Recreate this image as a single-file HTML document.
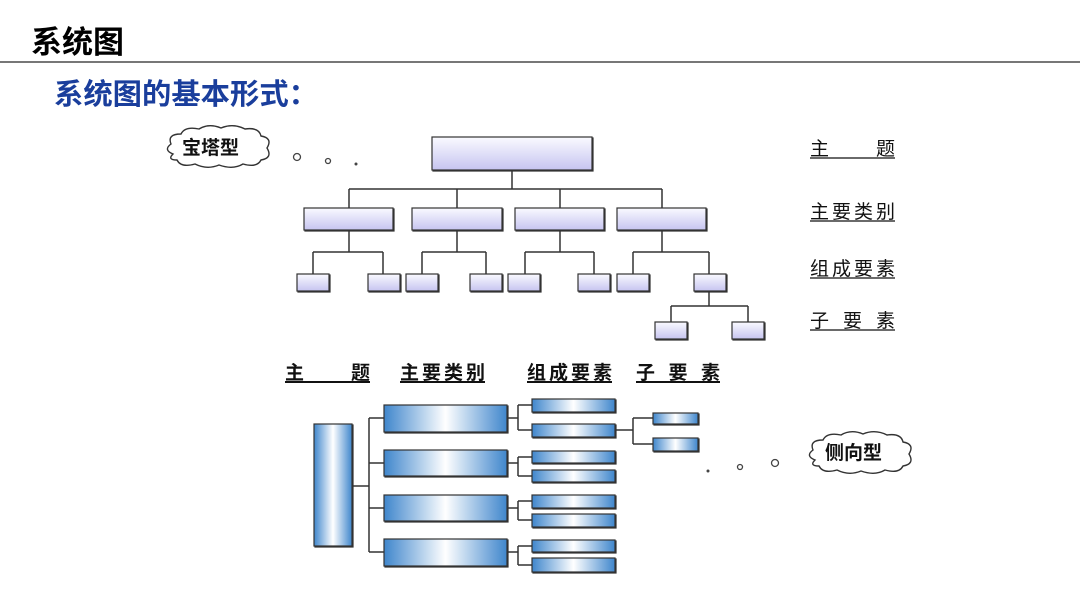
<!DOCTYPE html>
<html><head><meta charset="utf-8"><style>
body{margin:0;width:1080px;height:608px;background:#fff;overflow:hidden;font-family:"Liberation Sans","Noto Sans CJK SC",sans-serif}
</style></head><body>
<svg width="1080" height="608" viewBox="0 0 1080 608" xmlns="http://www.w3.org/2000/svg" style="position:absolute;left:0;top:0">
<defs>
<linearGradient id="lav" x1="0" y1="0" x2="0" y2="1"><stop offset="0" stop-color="#fafaff"/><stop offset="1" stop-color="#c6c4f0"/></linearGradient>
<linearGradient id="blu" x1="0" y1="0" x2="1" y2="0"><stop offset="0" stop-color="#3f86cc"/><stop offset="0.5" stop-color="#ffffff"/><stop offset="1" stop-color="#3f86cc"/></linearGradient>
<path id="cloud" d="M10,30 Q0,26 8,20 Q4,10 18,10 Q22,2 36,5 Q46,-1 58,4 Q70,-1 82,5 Q96,3 98,12 Q110,14 104,24 Q110,34 98,36 Q94,44 80,40 Q70,46 56,41 Q44,46 32,40 Q18,44 14,36 Q4,36 10,30 Z" fill="#fff" stroke="#333" stroke-width="1.4"/>
</defs>
<text x="31" y="53" font-size="31" font-weight="bold" fill="#000" textLength="93" lengthAdjust="spacingAndGlyphs" font-family="Liberation Sans,Noto Sans CJK SC,sans-serif">系统图</text>
<line x1="0" y1="62" x2="1080" y2="62" stroke="#777" stroke-width="2"/>
<text x="54" y="104" font-size="29" font-weight="bold" fill="#1a3e9c" textLength="264" lengthAdjust="spacingAndGlyphs" font-family="Liberation Sans,Noto Sans CJK SC,sans-serif">系统图的基本形式：</text>

<g stroke="#333" stroke-width="1.5" fill="none">
<line x1="512" y1="170" x2="512" y2="189"/><line x1="349" y1="189" x2="662" y2="189"/>
<line x1="349" y1="189" x2="349" y2="208"/><line x1="457" y1="189" x2="457" y2="208"/><line x1="560" y1="189" x2="560" y2="208"/><line x1="662" y1="189" x2="662" y2="208"/>
<line x1="349" y1="230" x2="349" y2="252"/><line x1="457" y1="230" x2="457" y2="252"/><line x1="560" y1="230" x2="560" y2="252"/><line x1="662" y1="230" x2="662" y2="252"/>
<line x1="313" y1="252" x2="383" y2="252"/><line x1="422" y1="252" x2="486" y2="252"/><line x1="525" y1="252" x2="594" y2="252"/><line x1="633" y1="252" x2="709" y2="252"/>
<line x1="313" y1="252" x2="313" y2="274"/><line x1="383" y1="252" x2="383" y2="274"/><line x1="422" y1="252" x2="422" y2="274"/><line x1="486" y1="252" x2="486" y2="274"/><line x1="525" y1="252" x2="525" y2="274"/><line x1="594" y1="252" x2="594" y2="274"/><line x1="633" y1="252" x2="633" y2="274"/><line x1="709" y1="252" x2="709" y2="274"/>
<line x1="709" y1="291" x2="709" y2="306"/><line x1="671" y1="306" x2="748" y2="306"/><line x1="671" y1="306" x2="671" y2="322"/><line x1="748" y1="306" x2="748" y2="322"/>
<line x1="352" y1="486" x2="369" y2="486"/><line x1="369" y1="418" x2="369" y2="552"/>
<line x1="369" y1="418" x2="384" y2="418"/><line x1="369" y1="463" x2="384" y2="463"/><line x1="369" y1="508" x2="384" y2="508"/><line x1="369" y1="552" x2="384" y2="552"/>
<line x1="507" y1="418" x2="518" y2="418"/><line x1="518" y1="405" x2="518" y2="430"/><line x1="518" y1="405" x2="532" y2="405"/><line x1="518" y1="430" x2="532" y2="430"/>
<line x1="507" y1="463" x2="518" y2="463"/><line x1="518" y1="457" x2="518" y2="476"/><line x1="518" y1="457" x2="532" y2="457"/><line x1="518" y1="476" x2="532" y2="476"/>
<line x1="507" y1="508" x2="518" y2="508"/><line x1="518" y1="501" x2="518" y2="520"/><line x1="518" y1="501" x2="532" y2="501"/><line x1="518" y1="520" x2="532" y2="520"/>
<line x1="507" y1="552" x2="518" y2="552"/><line x1="518" y1="546" x2="518" y2="565"/><line x1="518" y1="546" x2="532" y2="546"/><line x1="518" y1="565" x2="532" y2="565"/>
<line x1="615" y1="430" x2="633" y2="430"/><line x1="633" y1="418" x2="633" y2="444"/><line x1="633" y1="418" x2="653" y2="418"/><line x1="633" y1="444" x2="653" y2="444"/>
</g>

<g stroke="#333" stroke-width="1.2" fill="url(#lav)" style="filter:drop-shadow(1.5px 1.5px 0 #333)">
<rect x="432" y="137" width="160" height="33"/>
<rect x="304" y="208" width="89" height="22"/><rect x="412" y="208" width="90" height="22"/><rect x="515" y="208" width="89" height="22"/><rect x="617" y="208" width="89" height="22"/>
<rect x="297" y="274" width="32" height="17"/><rect x="368" y="274" width="32" height="17"/><rect x="406" y="274" width="32" height="17"/><rect x="470" y="274" width="32" height="17"/><rect x="508" y="274" width="32" height="17"/><rect x="578" y="274" width="32" height="17"/><rect x="617" y="274" width="32" height="17"/><rect x="694" y="274" width="32" height="17"/>
<rect x="655" y="322" width="32" height="17"/><rect x="732" y="322" width="32" height="17"/>
</g>
<g stroke="#333" stroke-width="1.2" fill="url(#blu)" style="filter:drop-shadow(1.5px 1.5px 0 #333)">
<rect x="314" y="424" width="38" height="122"/>
<rect x="384" y="405" width="123" height="27"/><rect x="384" y="450" width="123" height="26"/><rect x="384" y="495" width="123" height="26"/><rect x="384" y="539" width="123" height="27"/>
<rect x="532" y="399" width="83" height="13"/><rect x="532" y="424" width="83" height="13"/><rect x="532" y="451" width="83" height="12"/><rect x="532" y="470" width="83" height="12"/><rect x="532" y="495" width="83" height="13"/><rect x="532" y="514" width="83" height="13"/><rect x="532" y="540" width="83" height="12"/><rect x="532" y="558" width="83" height="14"/>
<rect x="653" y="413" width="45" height="11"/><rect x="653" y="438" width="45" height="13"/>
</g>

<use href="#cloud" x="163" y="124"/>
<text x="182" y="154" font-size="19" fill="#111" font-weight="bold" font-family="Liberation Sans,Noto Sans CJK SC,sans-serif">宝塔型</text>
<use href="#cloud" x="805" y="430"/>
<text x="825" y="459" font-size="19" fill="#111" font-weight="bold" font-family="Liberation Sans,Noto Sans CJK SC,sans-serif">侧向型</text>
<g fill="#fff" stroke="#444" stroke-width="1.3">
<circle cx="297" cy="157" r="3.5"/><circle cx="328" cy="161" r="2.5"/>
<circle cx="775" cy="463" r="3.5"/><circle cx="740" cy="467" r="2.5"/>
</g>
<circle cx="356" cy="164" r="1.5" fill="#444"/><circle cx="708" cy="471" r="1.5" fill="#444"/>

<g font-size="19" fill="#111" font-family="Liberation Sans,Noto Sans CJK SC,sans-serif">
<text x="810" y="155" textLength="85" xml:space="preserve">主       题</text>
<text x="810" y="218" textLength="85">主要类别</text>
<text x="810" y="275" textLength="85">组成要素</text>
<text x="810" y="327" textLength="85" xml:space="preserve">子 要 素</text>
</g>
<g stroke="#111" stroke-width="1.3">
<line x1="810" y1="158" x2="895" y2="158"/><line x1="810" y1="221" x2="895" y2="221"/><line x1="810" y1="278" x2="895" y2="278"/><line x1="810" y1="330" x2="895" y2="330"/>
<line x1="285" y1="382" x2="370" y2="382" stroke-width="2"/><line x1="400" y1="382" x2="485" y2="382" stroke-width="2"/><line x1="527" y1="382" x2="612" y2="382" stroke-width="2"/><line x1="636" y1="382" x2="720" y2="382" stroke-width="2"/>
</g>
<g font-size="19" font-weight="bold" fill="#111" font-family="Liberation Sans,Noto Sans CJK SC,sans-serif">
<text x="285" y="379" textLength="85" xml:space="preserve">主       题</text>
<text x="400" y="379" textLength="85">主要类别</text>
<text x="527" y="379" textLength="85">组成要素</text>
<text x="636" y="379" textLength="84" xml:space="preserve">子 要 素</text>
</g>
</svg>
</body></html>
